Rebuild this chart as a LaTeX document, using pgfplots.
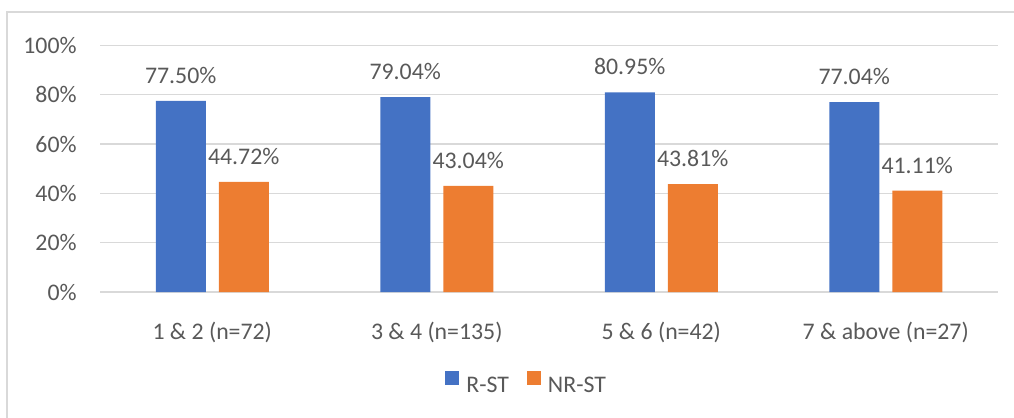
\documentclass[border=0pt]{standalone}
\usepackage{pgfplots}
\pgfplotsset{compat=1.18}
\usepackage{fontspec}
\setmainfont{Carlito}

\definecolor{rst}{HTML}{4472C4}
\definecolor{nrst}{HTML}{ED7D31}
\definecolor{gridc}{HTML}{D9D9D9}
\definecolor{txt}{HTML}{595959}

\begin{document}
\begin{tikzpicture}
    \begin{axis}[
        at={(50pt,63pt)}, anchor=south west,
        scale only axis,
        width=449pt, height=123.25pt,
        ybar, bar width=25pt, ybar=6.5pt,
        xmin=-0.5, xmax=3.5,
        ymin=0, ymax=100,
        enlarge x limits=false,
        xtick={0,1,2,3},
        xticklabels={1 \& 2 (n=72), 3 \& 4 (n=135), 5 \& 6 (n=42), 7 \& above (n=27)},
        ytick={0,20,40,60,80,100},
        yticklabels={0\%,20\%,40\%,60\%,80\%,100\%},
        ymajorgrids=true,
        grid style={gridc, line width=0.7pt},
        axis line style={draw=none},
        tick style={draw=none},
        tick label style={font=\fontsize{11.9}{14}\selectfont, text=txt},
        yticklabel style={inner sep=0pt, xshift=-11.5pt},
        xticklabel style={anchor=base, inner sep=0pt, yshift=-19.5pt},
        nodes near coords={\pgfmathprintnumber[fixed,fixed zerofill,precision=2,assume math mode=true]{\pgfplotspointmeta}\%},
        every node near coord/.append style={font=\fontsize{11.9}{14}\selectfont, text=txt, anchor=base, inner sep=0pt, yshift=8.8pt},
        legend columns=2,
        legend style={
            at={(axis description cs:0.3842,-0.4097)}, anchor=south west,
            draw=none, inner sep=0pt,
            font=\fontsize{11.9}{14}\selectfont, text=txt,
            nodes={inner sep=0pt, text depth=0pt},
            /tikz/every odd column/.append style={column sep=3.5pt},
            /tikz/every even column/.append style={column sep=9pt},
        },
        legend image code/.code={\fill[#1] (0pt,0pt) rectangle (7pt,7pt);},
    ]
    %% R-ST
    \addplot[fill=rst, draw=none] coordinates {(0,77.50) (1,79.04) (2,80.95) (3,77.04)};
    %% NR-ST
    \addplot[fill=nrst, draw=none] coordinates {(0,44.72) (1,43.04) (2,43.81) (3,41.11)};
    \legend{R-ST, NR-ST}
    \end{axis}
    %% chart frame (cut off at right and bottom)
    \draw[gridc, line width=0.6pt] (3.5pt,-20pt) -- (3.5pt,203pt) -- (530pt,203pt);
    \pgfresetboundingbox
    \path[use as bounding box] (0,0) rectangle (507pt,209pt);
\end{tikzpicture}
\end{document}
